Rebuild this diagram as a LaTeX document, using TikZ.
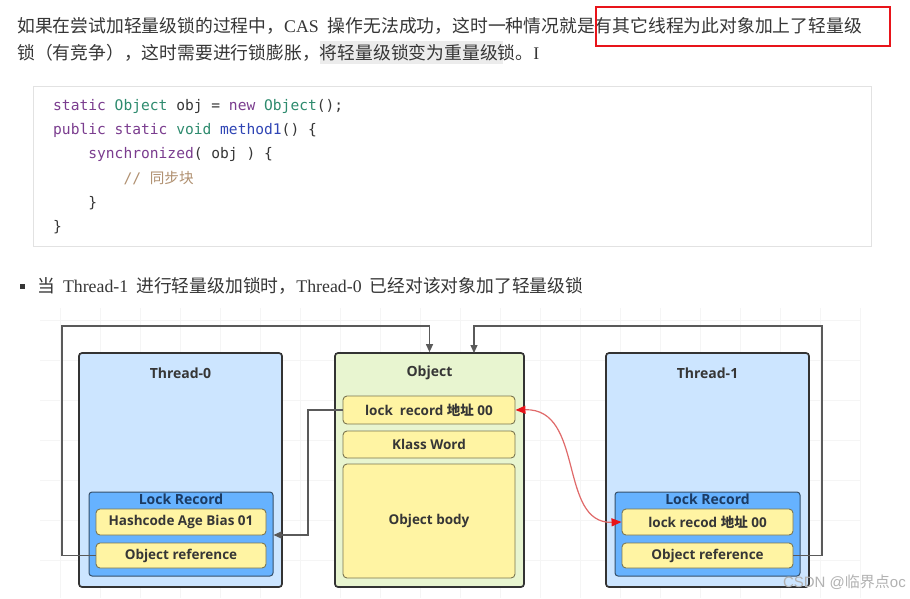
\documentclass[tikz,border=0pt]{standalone}
\usepackage{fontspec}
\setmainfont{Liberation Serif}
\setmonofont{DejaVu Sans Mono}
\newfontfamily\cjk{Noto Sans CJK SC}
\newfontfamily\lab{Open Sans}
\newfontfamily\wmfont{Liberation Sans}
\usetikzlibrary{arrows.meta}
\definecolor{txt}{HTML}{363636}
\definecolor{kw}{HTML}{7B3D8F}
\definecolor{ty}{HTML}{2E8B6E}
\definecolor{df}{HTML}{2F45B5}
\definecolor{cm}{HTML}{B09070}
\definecolor{codebd}{HTML}{E2E2E2}
\definecolor{hl}{HTML}{ECECEC}
\definecolor{redbox}{HTML}{E8141A}
\definecolor{thr}{HTML}{CCE5FF}
\definecolor{lrec}{HTML}{66B2FF}
\definecolor{lrecbd}{HTML}{36506A}
\definecolor{yel}{HTML}{FFF4A3}
\definecolor{yelbd}{HTML}{7A7550}
\definecolor{objg}{HTML}{E8F5D0}
\definecolor{lrtxt}{HTML}{1C3B63}
\definecolor{conncol}{HTML}{5A5A5A}
\definecolor{redarr}{HTML}{E8141A}
\definecolor{redln}{HTML}{E06A6A}
\begin{document}
\begin{tikzpicture}[x=1pt,y=-1pt,
  big/.style={draw=black!80,line width=1.7pt,rounded corners=3pt,inner sep=0pt},
  lrbox/.style={draw=lrecbd,fill=lrec,line width=1pt,rounded corners=3pt,inner sep=0pt},
  ybox/.style={draw=yelbd,fill=yel,line width=0.9pt,rounded corners=4pt,inner sep=0pt,font=\lab\bfseries\fontsize{13.5}{15}\selectfont,text=txt},
  ttl/.style={inner sep=0pt,font=\lab\bfseries\fontsize{14}{16}\selectfont,text=txt},
  conn/.style={draw=conncol,line width=1.1pt},
  gtip/.style={-{Triangle[length=8pt,width=7pt]}},
  rtip/.style={{Triangle[length=10pt,width=8pt,color=redarr]}-{Triangle[length=10pt,width=8pt,color=redarr]}},
  para/.style={anchor=west,inner sep=0pt,text=txt,font=\fontsize{17.8}{20}\selectfont},
  codeln/.style={anchor=base west,inner sep=0pt,text=txt,font=\ttfamily\fontsize{14.6}{17}\selectfont},
]
\useasboundingbox (0,0) rectangle (910,598);
\fill[white] (0,0) rectangle (910,598);

% faint grid behind diagram
\foreach \gx in {60,100,...,860} \draw[black!4,line width=0.6pt] (\gx,308) -- (\gx,598);
\foreach \gy in {320,360,...,598} \draw[black!4,line width=0.6pt] (40,\gy) -- (860,\gy);

% paragraph
\fill[hl] (320,41) rectangle (503,64);
\node[para] (p1) at (17,26) {{\cjk 如果在尝试加轻量级锁的过程中，}CAS\hspace{9pt}{\cjk 操作无法成功，这时一种情况就是有其它线程为此对象加上了轻量级}};
\node[para] (p2) at (17,53) {{\cjk 锁（有竞争），这时需要进行锁膨胀，将轻量级锁变为重量级锁。}I};
\draw[redbox,line width=2pt] (596,7) rectangle (890,46);

% code block
\draw[codebd,fill=white,line width=1pt] (33,86) rectangle (871,246);
\node[codeln] (c1) at (53,110) {\textcolor{kw}{static} \textcolor{ty}{Object} obj = \textcolor{kw}{new} \textcolor{ty}{Object}();};
\node[codeln] (c2) at (53,134) {\textcolor{kw}{public static} \textcolor{ty}{void} \textcolor{df}{method1}() \{};
\node[codeln] (c3) at (53,158) {\hphantom{xxxx}\textcolor{kw}{synchronized}( obj ) \{};
\node[codeln] (c4) at (53,183) {\hphantom{xxxxxxxx}\textcolor{cm}{// {\cjk 同步块}}};
\node[codeln] (c5) at (53,207) {\hphantom{xxxx}\}};
\node[codeln] (c6) at (53,231) {\}};

% bullet line
\fill[txt] (19.5,283.5) rectangle (24.5,288.5);
\node[para] (b1) at (37,286) {{\cjk 当}\hspace{8pt}Thread-1\hspace{8pt}{\cjk 进行轻量级加锁时，}Thread-0\hspace{8pt}{\cjk 已经对该对象加了轻量级锁}};

% Thread-0
\node[big,fill=thr,minimum width=203pt,minimum height=234pt] (T0) at (180.5,470) {};
\node[ttl] (T0t) at (180.5,373) {Thread-0};
\node[lrbox,minimum width=184pt,minimum height=84pt] (LR0) at (181,534) {};
\node[ttl,text=lrtxt] (LR0t) at (181,499) {Lock Record};
\node[ybox,minimum width=170pt,minimum height=26pt] (H0) at (181,522) {Hashcode Age Bias 01};
\node[ybox,minimum width=170pt,minimum height=25pt] (OR0) at (181,555.5) {Object reference};

% Object
\node[big,fill=objg,minimum width=189pt,minimum height=234pt] (Obj) at (429.5,470) {};
\node[ttl] (Objt) at (429.5,373) {Object};
\node[ybox,minimum width=172pt,minimum height=28pt] (LRA) at (429,410) {lock\ \ record {\cjk\bfseries 地址} 00};
\node[ybox,minimum width=172pt,minimum height=27pt] (KW) at (429,444.5) {Klass Word};
\node[ybox,minimum width=172pt,minimum height=114pt] (OB) at (429,521) {Object body};

% Thread-1
\node[big,fill=thr,minimum width=203pt,minimum height=234pt] (T1) at (707.5,470) {};
\node[ttl] (T1t) at (707.5,373) {Thread-1};
\node[lrbox,minimum width=185pt,minimum height=84pt] (LR1) at (707.5,534) {};
\node[ttl,text=lrtxt] (LR1t) at (707.5,499) {Lock Record};
\node[ybox,minimum width=171pt,minimum height=26pt] (LC1) at (707.5,522) {lock recod {\cjk\bfseries 地址} 00};
\node[ybox,minimum width=171pt,minimum height=25pt] (OR1) at (707.5,555.5) {Object reference};

% connectors
\coordinate (k1) at (62,326);
\coordinate (k2) at (822,326);
\coordinate (in2) at (474,353);
\coordinate (k3) at (308,535);
\draw[conn,gtip] (OR0.west) -| (k1) -| (Obj.north);
\draw[conn,gtip] (OR1.east) -| (k2) -| (in2);
\draw[conn,gtip] (LRA.west) -| (k3) -- (k3 -| LR0.east);
\draw[redln,line width=1.2pt,rtip]
  (LRA.east) .. controls (585,408) and (558,524) .. (LC1.west);

% watermark
\node[inner sep=0pt,anchor=east,text=black!30,font=\wmfont\fontsize{15}{17}\selectfont] (wm) at (906,582) {CSDN @{\cjk 临界点}oc};
\end{tikzpicture}
\end{document}
